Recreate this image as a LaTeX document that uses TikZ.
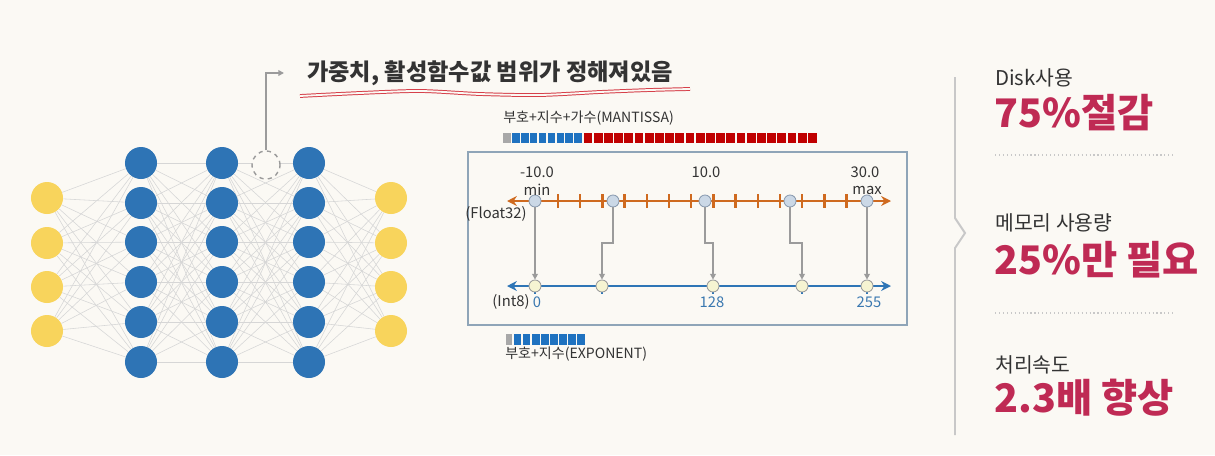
\documentclass[tikz,border=0pt]{standalone}
\usepackage{fontspec}
\setmainfont{Noto Sans CJK KR}
\usetikzlibrary{arrows.meta}
\pgfdeclarelayer{background}
\pgfsetlayers{background,main}
\definecolor{bg}{HTML}{FBF9F4}
\definecolor{nnyellow}{HTML}{F8D45C}
\definecolor{nnblue}{HTML}{2E74B5}
\definecolor{conncol}{HTML}{D6D6D6}
\definecolor{orangeax}{HTML}{CF6A1F}
\definecolor{blueax}{HTML}{2E75B6}
\definecolor{fcirc}{HTML}{CBD8E6}
\definecolor{icirc}{HTML}{F6F4D2}
\definecolor{circline}{HTML}{8A9BB0}
\definecolor{boxcol}{HTML}{8FA5B8}
\definecolor{arrcol}{HTML}{9B9B9B}
\definecolor{barred}{HTML}{C00000}
\definecolor{barblue}{HTML}{1F72C0}
\definecolor{bargray}{HTML}{A8A8A8}
\definecolor{wavered}{HTML}{D6404A}
\definecolor{crimson}{HTML}{BF2A54}
\definecolor{txtdark}{HTML}{333333}
\definecolor{numblue}{HTML}{3A78B0}
\definecolor{panelgray}{HTML}{C8C8C8}
\tikzset{
  innode/.style={circle, fill=nnyellow, minimum size=0.8cm, inner sep=0pt},
  hidnode/.style={circle, fill=nnblue, minimum size=0.8cm, inner sep=0pt},
  conn/.style={draw=conncol, line width=0.4pt},
  fpt/.style={circle, fill=fcirc, draw=circline, line width=0.6pt, minimum size=0.3cm, inner sep=0pt},
  ipt/.style={circle, fill=icirc, draw=arrcol, line width=0.6pt, minimum size=0.3cm, inner sep=0pt},
  maparrow/.style={draw=arrcol, line width=1pt, -{Triangle[length=4pt,width=4pt]}},
  axlab/.style={inner sep=0pt, text=txtdark, font=\fontsize{10.5pt}{12pt}\selectfont},
  numlab/.style={inner sep=0pt, text=numblue, font=\fontsize{10.5pt}{12pt}\selectfont},
  smalllab/.style={inner sep=0pt, anchor=west, text=txtdark, font=\fontsize{14.5pt}{16pt}\selectfont},
  biglab/.style={inner sep=0pt, anchor=west, text=crimson, font=\fontsize{28pt}{31pt}\selectfont\bfseries},
  sep/.style={draw=panelgray, line width=0.8pt, dotted},
}
\begin{document}
\begin{tikzpicture}[x=0.025cm,y=-0.025cm]
\begin{pgfonlayer}{background}
\fill[bg] (0,0) rectangle (1215,455);
\end{pgfonlayer}
\useasboundingbox (0,0) rectangle (1215,455);

% ---------- neural network ----------
\foreach \y [count=\i] in {198,243,287,331} {
  \node[innode] (a\i) at (47,\y) {};
  \node[innode] (e\i) at (391,\y) {};
}
\foreach \y [count=\i] in {163,203,242,282,322,362} {
  \node[hidnode] (b\i) at (141,\y) {};
  \node[hidnode] (c\i) at (222,\y) {};
  \node[hidnode] (d\i) at (309,\y) {};
}
\begin{pgfonlayer}{background}
\foreach \i in {1,...,4} \foreach \j in {1,...,6} {
  \draw[conn] (a\i) -- (b\j);
  \draw[conn] (d\j) -- (e\i);
}
\foreach \i in {1,...,6} \foreach \j in {1,...,6} {
  \draw[conn] (b\i) -- (c\j);
  \draw[conn] (c\i) -- (d\j);
}
\end{pgfonlayer}
\node[circle, draw=arrcol, dashed, line width=1pt, fill=bg, minimum size=0.7cm, inner sep=0pt] (dc) at (266,165) {};
\coordinate (ta) at (284,73);
\draw[draw=arrcol, line width=1pt, -{Triangle[length=4pt,width=4pt]}] (dc.north) |- (ta);

% ---------- title ----------
\node[inner sep=0pt, anchor=west, text=txtdark, font=\fontsize{16.5pt}{19pt}\selectfont\bfseries] (title) at (307,73) {가중치, 활성함수값 범위가 정해져있음};
\draw[draw=wavered, double=bg, double distance=1.3pt, line width=0.7pt]
  plot[smooth] coordinates {(300,96) (360,93) (420,91) (480,94) (540,95) (600,92) (650,90) (690,89)};

% ---------- bit bars ----------
\node[inner sep=0pt, anchor=west, text=txtdark, font=\fontsize{10pt}{12pt}\selectfont] (mant) at (503,118) {부호+지수+가수(MANTISSA)};
\fill[bargray] (503,133) rectangle (510.5,143);
\foreach \k in {0,...,7} \fill[barblue] ({512+8.9*\k},133) rectangle ({512+8.9*\k+7.6},143);
\foreach \k in {0,...,22} \fill[barred] ({583.5+10.2*\k},133) rectangle ({583.5+10.2*\k+8.8},143);

\fill[bargray] (506,334) rectangle (512,345);
\foreach \k in {0,...,7} \fill[barblue] ({513.5+9.1*\k},334) rectangle ({513.5+9.1*\k+7.8},345);
\node[inner sep=0pt, anchor=west, text=txtdark, font=\fontsize{10pt}{12pt}\selectfont] (expo) at (505,354) {부호+지수(EXPONENT)};

% ---------- quantization box ----------
\node[draw=boxcol, line width=1.2pt, minimum width=10.975cm, minimum height=4.325cm, inner sep=0pt] (box) at (687.5,238.5) {};

% float axis
\coordinate (fl) at (507,201);
\coordinate (fr) at (891,201);
\draw[draw=orangeax, line width=1.8pt, {Stealth[length=7pt,width=7pt]}-{Stealth[length=7pt,width=7pt]}] (fl) -- (fr);
\foreach \k in {0,...,13} \draw[draw=orangeax, line width=1.7pt] ({558+22.2*\k},194) -- ({558+22.2*\k},208);

% int axis
\coordinate (il) at (507,286);
\coordinate (ir) at (891,286);
\draw[draw=blueax, line width=1.8pt, {Stealth[length=7pt,width=7pt]}-{Stealth[length=7pt,width=7pt]}] (il) -- (ir);
\foreach \x in {535,602,713,802,867} \draw[draw=blueax, line width=1.5pt] (\x,280) -- (\x,294);

\foreach \x [count=\i] in {535,613,705,790,867} \node[fpt] (f\i) at (\x,201) {};
\foreach \x [count=\i] in {535,602,713,802,867} \node[ipt] (i\i) at (\x,286) {};

% mapping arrows
\coordinate (stepy) at (0,243);
\draw[maparrow] (f1) -- (i1);
\draw[maparrow] (f2.south) -- (f2.south |- stepy) -| (i2.north);
\draw[maparrow] (f3.south) -- (f3.south |- stepy) -| (i3.north);
\draw[maparrow] (f4.south) -- (f4.south |- stepy) -| (i4.north);
\draw[maparrow] (f5) -- (i5);

% axis labels
\node[axlab] (lm10) at (537,172) {-10.0};
\node[axlab] (lmin) at (537,190) {min};
\node[axlab] (l10) at (706,172) {10.0};
\node[axlab] (l30) at (865,172) {30.0};
\node[axlab] (lmax) at (867,190) {max};
\node[axlab] (lf32) at (496,214) {(Float32)};
\node[axlab] (li8) at (511,302) {(Int8)};
\node[numlab] (n0) at (537,302) {0};
\node[numlab] (n128) at (712,302) {128};
\node[numlab] (n255) at (869,302) {255};

% ---------- right panel ----------
\draw[draw=panelgray, line width=1.4pt, line join=miter] (955,77) -- (955,218) -- (965,233) -- (955,248) -- (955,435);

\node[smalllab] (disk) at (995,78) {Disk사용};
\node[biglab] (disk2) at (994,113) {75\%절감};
\draw[sep] (995,155) -- (1176,155);
\node[smalllab] (mem) at (995,223) {메모리 사용량};
\node[biglab] (mem2) at (994,260) {25\%만 필요};
\draw[sep] (995,313) -- (1176,313);
\node[smalllab] (spd) at (995,365) {처리속도};
\node[biglab] (spd2) at (994,398) {2.3배 향상};
\end{tikzpicture}
\end{document}
